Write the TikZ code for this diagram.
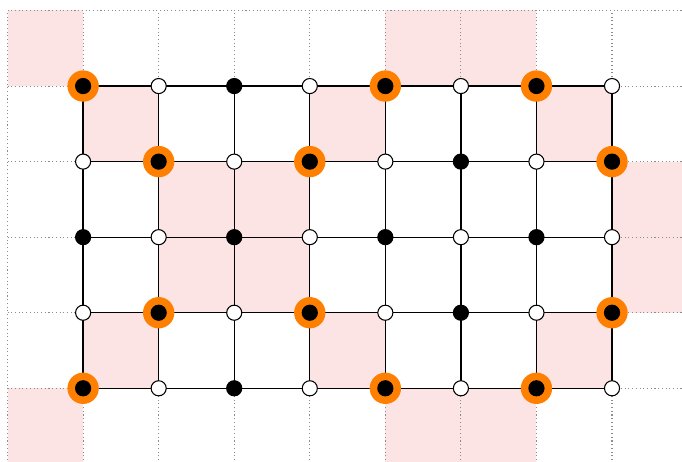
\documentclass[tikz,border=0pt]{standalone}
\definecolor{latorange}{HTML}{FF7F00}
\definecolor{latpink}{HTML}{FCE4E4}
\definecolor{latgrey}{HTML}{8C8C8C}

\begin{document}
\begin{tikzpicture}[
  x=1cm, y=1cm,
  cell/.style={fill=latpink},
  guide/.style={latgrey, densely dotted, line width=0.4pt},
  bond/.style={black, line width=0.5pt},
  site/.style={circle, inner sep=0pt, minimum size=2mm, line width=0.4pt},
  blacksite/.style={site, draw=black, fill=black},
  whitesite/.style={site, draw=black, fill=white},
  halo/.style={circle, inner sep=0pt, minimum size=4.15mm, fill=latorange},
]

  %% ---- Frame ----
  \useasboundingbox (-1.1,-4.967) rectangle (7.926,1.139);
  \clip (-1.1,-4.967) rectangle (7.926,1.139);

  %% ---- Shaded cells ----
  \foreach \i/\j in {-1/-1,0/0,1/1,2/1,1/2,2/2,0/3,-1/4,3/0,3/3,
                     4/-1,5/-1,4/4,5/4,6/0,7/1,7/2,6/3}{
    \fill[cell] (\i,-\j) rectangle ++(1,-1);
  }

  %% ---- Dotted guide grid ----
  \draw[guide] (-1,-5) grid (8,1);

  %% ---- Lattice points ----
  \foreach \i in {0,...,7}
    \foreach \j in {0,...,4}
      \coordinate (p-\i-\j) at (\i,-\j);

  %% ---- Bonds ----
  \foreach \i in {0,...,6}
    \foreach \j in {0,...,4}{
      \pgfmathtruncatemacro\k{\i+1}
      \draw[bond] (p-\i-\j) -- (p-\k-\j);
    }
  \foreach \i in {0,...,7}
    \foreach \j in {0,...,3}{
      \pgfmathtruncatemacro\k{\j+1}
      \draw[bond] (p-\i-\j) -- (p-\i-\k);
    }

  %% ---- Marked sites (orange halo) ----
  \foreach \i/\j in {0/0,4/0,6/0,1/1,3/1,7/1,1/3,3/3,7/3,0/4,4/4,6/4}
    \node[halo] (h-\i-\j) at (p-\i-\j) {};

  %% ---- Sites (black on even parity) ----
  \foreach \i in {0,...,7}
    \foreach \j in {0,...,4}{
      \pgfmathtruncatemacro\parity{mod(\i+\j,2)}
      \ifnum\parity=0
        \node[blacksite] (s-\i-\j) at (p-\i-\j) {};
      \else
        \node[whitesite] (s-\i-\j) at (p-\i-\j) {};
      \fi
    }

\end{tikzpicture}
\end{document}
